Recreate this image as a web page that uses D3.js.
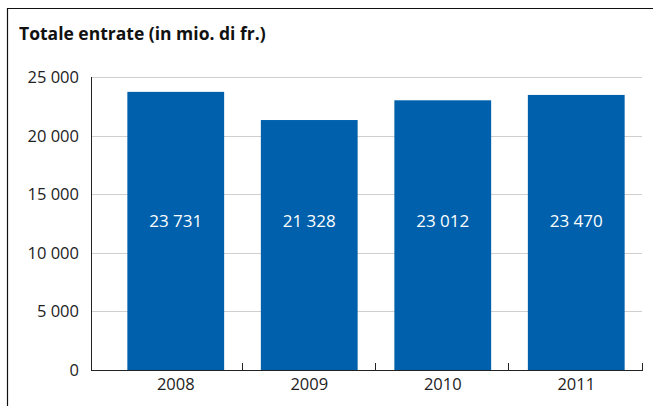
<!DOCTYPE html>
<html>
<head>
  <meta charset="utf-8">
  <title>Totale entrate</title>
  <style>
  body { margin: 0; background: #fff; }
  text { font-family: "Open Sans", "Noto Sans", sans-serif; }
  .title { font-size: 17.5px; font-weight: bold; fill: #111; }
  .tick-label { font-size: 16.5px; fill: #222; }
  .bar-label { font-size: 17px; fill: #fff; text-anchor: middle; }
  </style>
</head>
<body>
  <div id="chart"></div>
  <script src="https://cdn.jsdelivr.net/npm/d3@7"></script>
  <script>
  // data
  var years = ["2008", "2009", "2010", "2011"];
  var entrate = [23731, 21328, 23012, 23470];
  var yTicks = [0, 5000, 10000, 15000, 20000, 25000];

  var width = 653, height = 406;
  var axisLeft = 91, bandLeft = 109, plotRight = 643, plotTop = 77, plotBottom = 370;

  var svg = d3.select("#chart").append("svg")
    .attr("width", width)
    .attr("height", height);

  // number format with a space as thousands separator
  var fmt = d3.formatLocale({decimal: ".", thousands: " ", grouping: [3], currency: ["", ""]}).format(",d");

  var x = d3.scaleBand()
    .domain(years)
    .range([bandLeft, plotRight])
    .paddingInner(0.275)
    .paddingOuter(0.1375);

  var y = d3.scaleLinear()
    .domain([0, 25000])
    .range([plotBottom, plotTop]);

  // frame on top and left
  svg.append("path")
    .attr("d", "M7.5," + height + "V8.5H" + width)
    .attr("fill", "none")
    .attr("stroke", "#111")
    .attr("stroke-width", 1.2);

  svg.append("text")
    .attr("class", "title")
    .attr("x", 19)
    .attr("y", 40)
    .text("Totale entrate (in mio. di fr.)");

  // gridlines
  svg.append("g")
    .selectAll("line")
    .data(yTicks.slice(1))
    .enter().append("line")
    .attr("x1", axisLeft)
    .attr("x2", plotRight - 1)
    .attr("y1", function(d) { return Math.round(y(d)) + 0.5; })
    .attr("y2", function(d) { return Math.round(y(d)) + 0.5; })
    .attr("stroke", "#cfcfcf")
    .attr("stroke-width", 1);

  // y tick labels
  svg.append("g")
    .selectAll("text")
    .data(yTicks)
    .enter().append("text")
    .attr("class", "tick-label")
    .attr("x", 79)
    .attr("y", function(d) { return y(d); })
    .attr("dy", "0.36em")
    .attr("text-anchor", "end")
    .text(function(d) { return fmt(d); });

  // bars
  svg.append("g")
    .selectAll("rect")
    .data(entrate)
    .enter().append("rect")
    .attr("x", function(d, i) { return x(years[i]); })
    .attr("y", function(d) { return y(d); })
    .attr("width", x.bandwidth())
    .attr("height", function(d) { return y(0) - y(d); })
    .attr("fill", "#0060ab");

  // value labels inside bars
  svg.append("g")
    .selectAll("text")
    .data(entrate)
    .enter().append("text")
    .attr("class", "bar-label")
    .attr("x", function(d, i) { return x(years[i]) + x.bandwidth() / 2; })
    .attr("y", y(12700))
    .attr("dy", "0.36em")
    .text(function(d) { return fmt(d); });

  // y axis line
  svg.append("line")
    .attr("x1", axisLeft + 0.5).attr("x2", axisLeft + 0.5)
    .attr("y1", plotTop).attr("y2", plotBottom)
    .attr("stroke", "#222");

  // x axis line with ticks at band boundaries, pointing up
  svg.append("line")
    .attr("x1", axisLeft).attr("x2", plotRight)
    .attr("y1", plotBottom + 0.5).attr("y2", plotBottom + 0.5)
    .attr("stroke", "#222");

  svg.append("g")
    .selectAll("line")
    .data(years)
    .enter().append("line")
    .attr("x1", function(d) { return Math.round(x(d) + x.bandwidth() + x.step() * x.paddingInner() / 2) - 0.5; })
    .attr("x2", function(d) { return Math.round(x(d) + x.bandwidth() + x.step() * x.paddingInner() / 2) - 0.5; })
    .attr("y1", plotBottom)
    .attr("y2", plotBottom - 7)
    .attr("stroke", "#222");

  // year labels
  svg.append("g")
    .selectAll("text")
    .data(years)
    .enter().append("text")
    .attr("class", "tick-label")
    .attr("x", function(d) { return x(d) + x.bandwidth() / 2; })
    .attr("y", 384)
    .attr("dy", "0.36em")
    .attr("text-anchor", "middle")
    .text(function(d) { return d; });
  </script>
</body>
</html>
